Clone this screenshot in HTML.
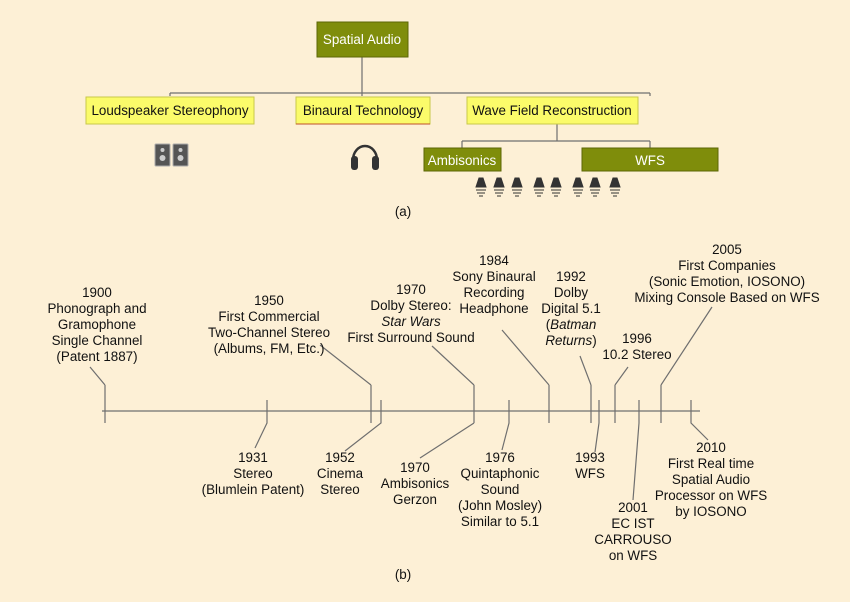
<!DOCTYPE html>
<html><head><meta charset="utf-8"><style>
html,body{margin:0;padding:0;background:#fdf0d6;}
svg{display:block}
text{font-family:"Liberation Sans",Arial,sans-serif;font-size:13.4px;fill:#111;text-anchor:middle}
</style></head><body>
<svg width="850" height="602" viewBox="0 0 850 602" xmlns="http://www.w3.org/2000/svg">
<rect width="850" height="602" fill="#fdf0d6"/>
<g stroke="#6f6f6f" stroke-width="1.2" fill="none">
<path d="M362 57V93M170 93H650M170 93V96M362 93V96M650 93V96M557 124V141M462 141H650M462 141V148M650 141V148"/>
</g>
<rect x="317" y="22" width="91" height="35" fill="#7f8d0b" stroke="#5c6606"/>
<text x="362" y="44" style="fill:#fff">Spatial Audio</text>
<g fill="#fbfb6a" stroke="#c8c84a">
<rect x="86" y="97" width="168" height="27"/>
<rect x="296" y="97" width="134" height="27"/>
<rect x="467" y="97" width="171" height="27"/>
</g>
<line x1="296" y1="124" x2="430" y2="124" stroke="#c0502a"/>
<text x="170" y="115">Loudspeaker Stereophony</text>
<text x="363" y="115">Binaural Technology</text>
<text x="552" y="115">Wave Field Reconstruction</text>
<rect x="424" y="148" width="77" height="23" fill="#7f8d0b" stroke="#5c6606"/>
<rect x="582" y="148" width="136" height="23" fill="#7f8d0b" stroke="#5c6606"/>
<text x="462" y="165" style="fill:#fff">Ambisonics</text>
<text x="650" y="165" style="fill:#fff">WFS</text>
<!-- speakers -->
<rect x="155" y="144" width="15" height="22" rx="1" fill="#555" stroke="#aaa"/>
<rect x="173" y="144" width="15" height="22" rx="1" fill="#555" stroke="#aaa"/>
<circle cx="162.5" cy="150" r="2" fill="#ccc"/><circle cx="162.5" cy="158" r="3" fill="#ccc"/>
<circle cx="180.5" cy="150" r="2" fill="#ccc"/><circle cx="180.5" cy="158" r="3" fill="#ccc"/>
<!-- headphones -->
<path d="M353 160a12 14 0 0 1 24 0" stroke="#333" stroke-width="2.5" fill="none"/>
<rect x="351" y="156" width="7" height="14" rx="3" fill="#333"/>
<rect x="372" y="156" width="7" height="14" rx="3" fill="#333"/>
<g fill="#333" stroke="#333" stroke-width="1">
<g id="sp"><path d="M479 178h4l3 9h-10z"/><path d="M476 190h10M477 193h8M479 196h4" fill="none"/></g>
<use href="#sp" x="18"/><use href="#sp" x="36"/><use href="#sp" x="58"/><use href="#sp" x="75"/><use href="#sp" x="97"/><use href="#sp" x="114"/><use href="#sp" x="134"/>
</g>
<text x="403" y="216">(a)</text>
<!-- timeline -->
<g stroke="#6f6f6f" stroke-width="1.2" fill="none">
<path d="M102 411H700"/>
<path d="M105 385V423M105 385L90 367"/>
<path d="M267 400V423L255 448"/>
<path d="M371 385V423M371 385L320 345"/>
<path d="M381 400V423L345 451"/>
<path d="M474 385V423M474 385L432 346M474 423L420 458"/>
<path d="M509 400V423L502 450"/>
<path d="M549 385V423M549 385L502 330"/>
<path d="M591 385V423M591 385L580 356"/>
<path d="M599 400V423L595 452"/>
<path d="M615 385V423M615 385L628 367"/>
<path d="M639 400V423L633 500"/>
<path d="M661 385V423M661 385L712 307"/>
<path d="M691 400V423L708 440"/>
</g>
<text x="97" y="297">1900</text><text x="97" y="313">Phonograph and</text><text x="97" y="329">Gramophone</text><text x="97" y="345">Single Channel</text><text x="97" y="361">(Patent 1887)</text>
<text x="269" y="305">1950</text><text x="269" y="321">First Commercial</text><text x="269" y="337">Two-Channel Stereo</text><text x="269" y="353">(Albums, FM, Etc.)</text>
<text x="411" y="294">1970</text><text x="411" y="310">Dolby Stereo:</text><text x="411" y="326" font-style="italic">Star Wars</text><text x="411" y="342">First Surround Sound</text>
<text x="494" y="265">1984</text><text x="494" y="281">Sony Binaural</text><text x="494" y="297">Recording</text><text x="494" y="313">Headphone</text>
<text x="571" y="281">1992</text><text x="571" y="297">Dolby</text><text x="571" y="313">Digital 5.1</text><text x="571" y="329">(<tspan font-style="italic">Batman</tspan></text><text x="571" y="345"><tspan font-style="italic">Returns</tspan>)</text>
<text x="637" y="343">1996</text><text x="637" y="359">10.2 Stereo</text>
<text x="727" y="254">2005</text><text x="727" y="270">First Companies</text><text x="727" y="286">(Sonic Emotion, IOSONO)</text><text x="727" y="302">Mixing Console Based on WFS</text>
<text x="253" y="462">1931</text><text x="253" y="478">Stereo</text><text x="253" y="494">(Blumlein Patent)</text>
<text x="340" y="462">1952</text><text x="340" y="478">Cinema</text><text x="340" y="494">Stereo</text>
<text x="415" y="472">1970</text><text x="415" y="488">Ambisonics</text><text x="415" y="504">Gerzon</text>
<text x="500" y="462">1976</text><text x="500" y="478">Quintaphonic</text><text x="500" y="494">Sound</text><text x="500" y="510">(John Mosley)</text><text x="500" y="526">Similar to 5.1</text>
<text x="590" y="462">1993</text><text x="590" y="478">WFS</text>
<text x="633" y="512">2001</text><text x="633" y="528">EC IST</text><text x="633" y="544">CARROUSO</text><text x="633" y="560">on WFS</text>
<text x="711" y="452">2010</text><text x="711" y="468">First Real time</text><text x="711" y="484">Spatial Audio</text><text x="711" y="500">Processor on WFS</text><text x="711" y="516">by IOSONO</text>
<text x="403" y="579">(b)</text>
</svg>
</body></html>
